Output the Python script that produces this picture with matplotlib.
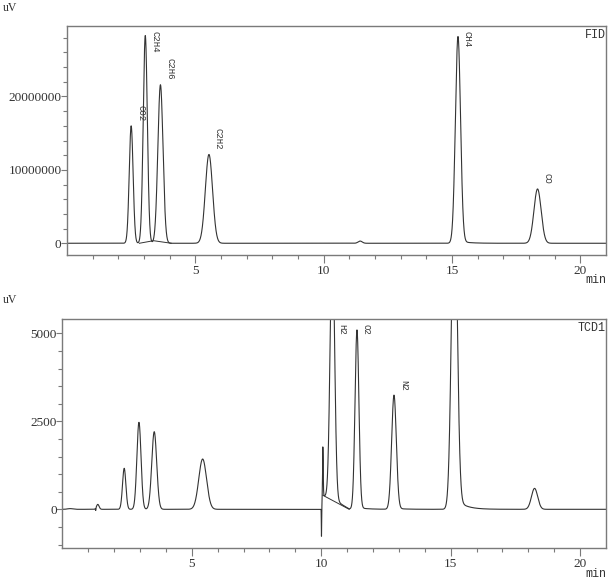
import matplotlib
matplotlib.use("Agg")
import matplotlib.pyplot as plt
import numpy as np
from matplotlib.ticker import MultipleLocator, FixedLocator, FuncFormatter

# FID channel peaks (retention time in min, height in uV, width sigma in min)
fid_names = ["CO2", "C2H4", "C2H6", "C2H2", "", "CH4", "CO"]
fid_rt = [2.50, 3.05, 3.64, 5.53, 11.42, 15.23, 18.33]
fid_height = [16.0e6, 28.3e6, 21.6e6, 12.1e6, 0.3e6, 28.0e6, 7.4e6]
fid_sigma = [0.075, 0.08, 0.10, 0.14, 0.08, 0.10, 0.14]
fid_tail = [0, 0, 0, 0, 0, 0.012, 0]
# integration baseline drawn under C2H4 / C2H6
fid_base_t = [2.82, 3.37, 4.06]
fid_base_v = [0, 0.35e6, 0]

# TCD1 channel peaks
tcd_names = ["", "", "", "", "", "", "", "", "", "H2", "O2", "N2", "", ""]
tcd_rt = [0.30, 1.29, 1.37, 2.39, 2.96, 3.55, 5.42, 10.01, 10.06, 10.43, 11.38, 12.81, 15.14, 18.24]
tcd_height = [20, -70, 140, 1165, 2472, 2205, 1429, -780, 1380, 7500, 5066, 3227, 9000, 595]
tcd_sigma = [0.1, 0.008, 0.05, 0.065, 0.08, 0.095, 0.15, 0.006, 0.015, 0.085, 0.075, 0.09, 0.11, 0.12]
tcd_tail = [0, 0, 0, 0, 0, 0, 0, 0, 0, 0.01, 0.01, 0.01, 0.04, 0]
# drift after the valve switch (also drawn as integration baseline)
tcd_drift_t = [10.06, 11.08]
tcd_drift_v = [400, 0]

x_major = [5, 10, 15, 20]

LINE = "#333333"
GRAY = "#7a7a7a"


def peak(t, rt, h, s, tail):
    z = (t - rt) / s
    y = h * np.exp(-0.5 * z ** 2)
    if tail:
        y += h * tail * np.exp(-np.clip(t - rt, 0, None) / 0.35) / (1 + np.exp(-4 * z))
    return y


def signal(t, rts, hs, ss, tails):
    y = np.zeros_like(t)
    for rt, h, s, k in zip(rts, hs, ss, tails):
        y += peak(t, rt, h, s, k)
    return y


t = np.linspace(0, 21, 12000)
fid = signal(t, fid_rt, fid_height, fid_sigma, fid_tail)
tcd = signal(t, tcd_rt, tcd_height, tcd_sigma, tcd_tail)
tcd += np.interp(t, tcd_drift_t, tcd_drift_v, left=0, right=0)

fig = plt.figure(figsize=(6.14, 5.83), dpi=100)
ax1 = fig.add_axes([0.1091, 0.5626, 0.878, 0.3928])
ax2 = fig.add_axes([0.1015, 0.0595, 0.8855, 0.3933])


def style(ax, ymin, ymax, major, minor):
    ax.set_xlim(0, 21)
    ax.set_ylim(ymin, ymax)
    ax.xaxis.set_major_locator(FixedLocator(x_major))
    ax.xaxis.set_minor_locator(FixedLocator([v for v in range(1, 21) if v % 5]))
    ax.yaxis.set_major_locator(MultipleLocator(major))
    ax.yaxis.set_minor_locator(MultipleLocator(minor))
    ax.xaxis.set_major_formatter(FuncFormatter(lambda v, p: "%d" % v))
    ax.yaxis.set_major_formatter(FuncFormatter(lambda v, p: "%d" % v))
    for sp in ax.spines.values():
        sp.set_color(GRAY)
        sp.set_linewidth(1.0)
    ax.tick_params(axis="x", which="major", length=6, width=0.8, pad=1, color=GRAY)
    ax.tick_params(axis="x", which="minor", length=3, width=0.8, color=GRAY)
    ax.tick_params(axis="y", which="major", length=4, width=0.8, pad=0, color=GRAY)
    ax.tick_params(axis="y", which="minor", length=3, width=0.8, color=GRAY)
    for lab in ax.get_xticklabels() + ax.get_yticklabels():
        lab.set_fontfamily("Liberation Serif")
        lab.set_fontsize(9.5)
        lab.set_color("#333333")


# FID
ax1.plot(t, fid, color=LINE, lw=0.8)
ax1.plot(fid_base_t, fid_base_v, color=LINE, lw=0.7)
style(ax1, -1.6e6, 29.6e6, 1e7, 2e6)

# TCD1
ax2.plot(t, tcd, color=LINE, lw=0.8)
ax2.plot(tcd_drift_t, tcd_drift_v, color=LINE, lw=0.7)
style(ax2, -1108, 5406, 2500, 500)

anns = []
for ax, names, rts, hs in [(ax1, fid_names, fid_rt, fid_height), (ax2, tcd_names, tcd_rt, tcd_height)]:
    for name, rt, h in zip(names, rts, hs):
        if not name:
            continue
        a = ax.annotate(name, (rt, h), xytext=(3.5, 3.5), textcoords="offset points",
                        rotation=-90, ha="left", va="bottom", fontsize=6.5,
                        family="Liberation Mono", color="#333333", annotation_clip=False)
        anns.append((ax, a))

for ax, tag in [(ax1, "FID"), (ax2, "TCD1")]:
    ax.text(1.0, 0.985, tag, transform=ax.transAxes, ha="right", va="top",
            family="Liberation Mono", fontsize=8.5, color="#333333")
    ax.text(1.0, -0.11, "min", transform=ax.transAxes, ha="right", va="center",
            family="Liberation Mono", fontsize=8.5, color="#333333")

fig.text(3 / 614, 1 - 8 / 583, "uV", ha="left", va="center",
         family="Liberation Serif", fontsize=8.5, color="#333333")
fig.text(3 / 614, 1 - 300 / 583, "uV", ha="left", va="center",
         family="Liberation Serif", fontsize=8.5, color="#333333")

# keep labels of tall peaks inside the frame
fig.canvas.draw()
r = fig.canvas.get_renderer()
for ax, a in anns:
    bb = a.get_window_extent(r)
    top = ax.get_window_extent(r).y1 - 5
    if bb.y1 > top:
        dx, dy = a.xyann
        a.xyann = (dx, dy - (bb.y1 - top) * 72 / fig.dpi)

fig.savefig("out.png", dpi=100)
